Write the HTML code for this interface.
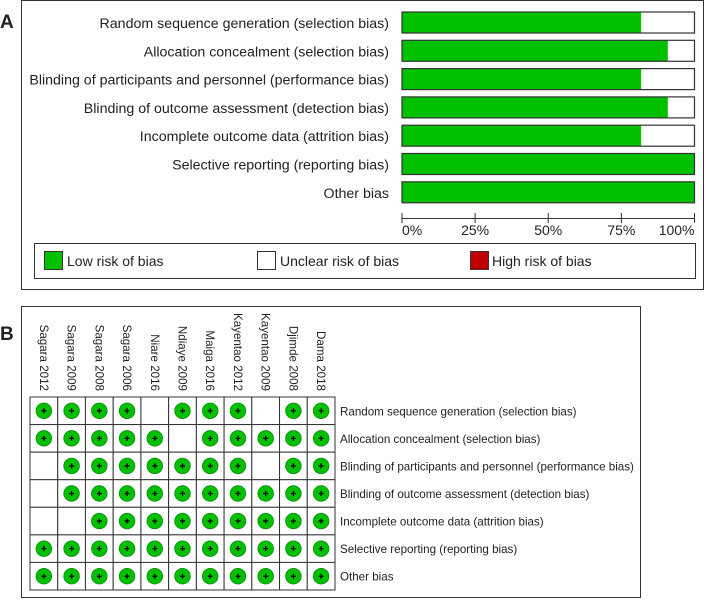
<!DOCTYPE html>
<html><head><meta charset="utf-8"><style>
html,body{margin:0;padding:0;background:#fff;}
svg text{font-family:"Liberation Sans",sans-serif;fill:#222;}
</style></head><body>
<svg id="chart" width="706" height="599" viewBox="0 0 706 599" xmlns="http://www.w3.org/2000/svg">
<text x="0" y="28" font-size="19" font-weight="bold">A</text>
<rect x="21.5" y="0.5" width="682" height="289" fill="none" stroke="#333"/>
<g id="barsA"></g>
<g id="axisA"></g>
<rect x="34.5" y="243.5" width="661" height="35" fill="none" stroke="#333"/>
<g><rect x="44.5" y="251.5" width="18" height="18" fill="#00c000" stroke="#333"/><text x="67" y="266" font-size="14">Low risk of bias</text></g>
<g><rect x="257.5" y="251.5" width="18" height="18" fill="#fff" stroke="#333"/><text x="280" y="266" font-size="14">Unclear risk of bias</text></g>
<g><rect x="470.5" y="251.5" width="18" height="18" fill="#c00000" stroke="#333"/><text x="492" y="266" font-size="14">High risk of bias</text></g>

<text x="0" y="340" font-size="19" font-weight="bold">B</text>
<rect x="21.5" y="306.5" width="619" height="291" fill="none" stroke="#333"/>
<g id="gridB"></g>
</svg>
<script>
const domains = ["Random sequence generation (selection bias)","Allocation concealment (selection bias)","Blinding of participants and personnel (performance bias)","Blinding of outcome assessment (detection bias)","Incomplete outcome data (attrition bias)","Selective reporting (reporting bias)","Other bias"];
const lowPct = [81.8, 90.9, 81.8, 90.9, 81.8, 100, 100];
const unclearPct = [18.2, 9.1, 18.2, 9.1, 18.2, 0, 0];
const highPct = [0, 0, 0, 0, 0, 0, 0];
const tickVals = [0, 25, 50, 75, 100];
const tickLabels = ["0%", "25%", "50%", "75%", "100%"];
const studies = ["Sagara 2012","Sagara 2009","Sagara 2008","Sagara 2006","Niare 2016","Ndiaye 2009","Maiga 2016","Kayentao 2012","Kayentao 2009","Djimde 2008","Dama 2018"];
const judgements = [
 [1,1,1,1,0,1,1,1,0,1,1],
 [1,1,1,1,1,0,1,1,1,1,1],
 [0,1,1,1,1,1,1,1,0,1,1],
 [0,1,1,1,1,1,1,1,1,1,1],
 [0,0,1,1,1,1,1,1,1,1,1],
 [1,1,1,1,1,1,1,1,1,1,1],
 [1,1,1,1,1,1,1,1,1,1,1]
];
const NS="http://www.w3.org/2000/svg";
function mk(t,a,p){const e=document.createElementNS(NS,t);for(const k in a)e.setAttribute(k,a[k]);p.appendChild(e);return e;}
const x0=402,x1=694.5;
const xs=v=>x0+(x1-x0)*v/100;
const rowY=i=>12+i*28.3;
const barsA=document.getElementById('barsA');
domains.forEach((d,i)=>{
  const y=rowY(i);
  const lab=mk('text',{x:389,y:y+16,'font-size':14.2,'text-anchor':'end'},barsA);
  lab.textContent=d;
  
  
  let acc=0;
  [[lowPct[i],'#00c000'],[unclearPct[i],'#fff'],[highPct[i],'#c00000']].forEach(([v,c])=>{
    if(v<=0)return;
    const r=mk('rect',{x:xs(acc),y:y,width:xs(acc+v)-xs(acc),height:21,fill:c},barsA);
    
    
    acc+=v;
  });
  const o=mk('rect',{x:x0,y:y,width:x1-x0,height:21,fill:'none',stroke:'#333','stroke-width':1.2},barsA);
  
  
});
const axisA=document.getElementById('axisA');
mk('line',{x1:x0,x2:x1,y1:218.5,y2:218.5,stroke:'#333'},axisA);
tickVals.forEach((v,i)=>{
  mk('line',{x1:xs(v),x2:xs(v),y1:213,y2:223,stroke:'#333'},axisA);
  const t=mk('text',{x:xs(v),y:235,'font-size':14,'text-anchor':i==0?'start':(i==tickVals.length-1?'end':'middle')},axisA);
  t.textContent=tickLabels[i];
  
  
});
const g=document.getElementById('gridB');
const gx0=30,gy0=397,cw=(335-30)/11,rh=(590-397)/7;
studies.forEach((s,j)=>{
  const cx=gx0+cw*(j+0.5);
  const t=mk('text',{x:0,y:0,'font-size':11.6,'text-anchor':'end',transform:`translate(${cx-4},391) rotate(90)`},g);
  t.textContent=s;
  
  
});
domains.forEach((d,i)=>{
  const cy=gy0+rh*(i+0.5);
  const t=mk('text',{x:340,y:cy+4.5,'font-size':11.6},g);
  t.textContent=d;
  
  
  studies.forEach((s,j)=>{
    const cx=gx0+cw*(j+0.5);
    const c=mk('rect',{x:gx0+cw*j,y:gy0+rh*i,width:cw,height:rh,fill:'#fff',stroke:'#333','stroke-width':1},g);
    
    
    if(judgements[i][j]===1){
      const e=mk('ellipse',{cx:cx,cy:cy,rx:7.8,ry:7.8,fill:'#00c000',stroke:'#0a8a0a','stroke-width':0.8},g);
      
      
      mk('path',{d:`M${cx-2.5} ${cy}H${cx+2.5}M${cx} ${cy-2.5}V${cy+2.5}`,stroke:'#000','stroke-width':1.3},g);
    }
  });
});
</script>
</body></html>
